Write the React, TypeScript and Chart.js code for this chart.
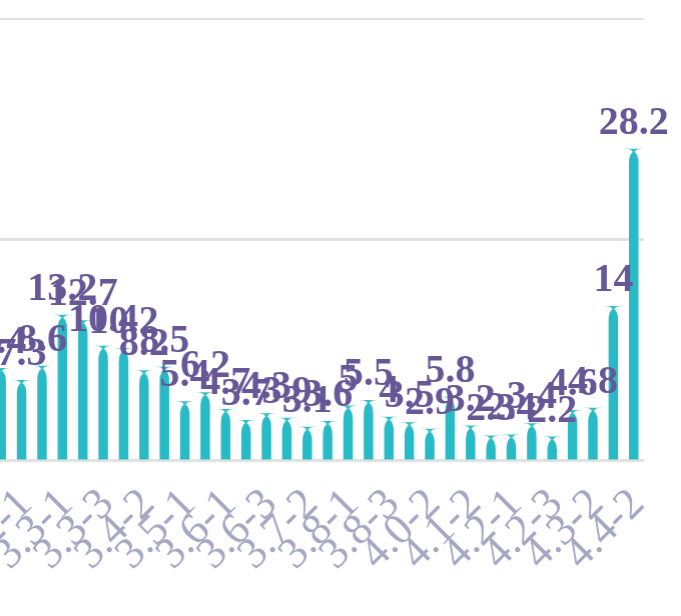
import React, { useEffect, useRef } from "react";
import { Chart, registerables } from "chart.js";

Chart.register(...registerables);

const categories = [
  "3.1-3", "3.2-1", "3.2-2", "3.3-1", "3.3-2", "3.3-3", "3.4-1", "3.4-2",
  "3.4-3", "3.5-1", "3.5-2", "3.6-1", "3.6-2", "3.6-3", "3.7-1", "3.7-2",
  "3.7-3", "3.8-1", "3.8-2", "3.8-3", "4.0-1", "4.0-2", "4.1-1", "4.1-2",
  "4.1-3", "4.2-1", "4.2-2", "4.2-3", "4.3-1", "4.3-2", "4.4-1", "4.4-2",
];

const values = [
  8.4, 7.3, 8.6, 13.2, 12.7, 10.4, 10.2, 8.2,
  8.5, 5.4, 6.2, 4.7, 3.7, 4.3, 3.9, 3.1,
  3.6, 5, 5.5, 4, 3.5, 2.9, 5.8, 3.2,
  2.3, 2.4, 3.4, 2.2, 4.6, 4.8, 14, 28.2,
];

const yTicks = [0, 20, 40];

const BAR_COLOR = "#29bbc5";
const CAP_COLOR = "#35c0c8";
const LABEL_COLOR = "#665897";
const TICK_COLOR = "#a4a8c2";
const GRID_COLOR = "#e2e2e2";

// desired chart-area placement on the page (layout only)
const AREA = { left: -8.6, right: 644.5, top: 18, bottom: 461 };

const shapePlugin = {
  id: "bulletBars",
  afterDatasetsDraw(chart: any) {
    const ctx = chart.ctx;
    const meta = chart.getDatasetMeta(0);
    const ds = chart.data.datasets[0];
    ctx.save();
    meta.data.forEach((el: any) => {
      const x = el.x;
      const top = el.y;
      const base = el.base;
      const w = el.width;
      ctx.beginPath();
      ctx.moveTo(x - w / 2, base);
      ctx.lineTo(x - w / 2, top + 14);
      ctx.quadraticCurveTo(x - w / 2, top + 5, x, top + 2.5);
      ctx.quadraticCurveTo(x + w / 2, top + 5, x + w / 2, top + 14);
      ctx.lineTo(x + w / 2, base);
      ctx.closePath();
      ctx.fillStyle = BAR_COLOR;
      ctx.fill();
      const cw = 19;
      const ch = 6;
      ctx.beginPath();
      ctx.moveTo(x - cw / 2, top);
      ctx.lineTo(x + cw / 2, top);
      ctx.bezierCurveTo(x + cw * 0.06, top, x + cw * 0.05, top + ch * 0.5, x, top + ch);
      ctx.bezierCurveTo(x - cw * 0.05, top + ch * 0.5, x - cw * 0.06, top, x - cw / 2, top);
      ctx.closePath();
      ctx.fillStyle = CAP_COLOR;
      ctx.fill();
    });
    ctx.font = 'bold 40px "Liberation Serif", "Times New Roman", serif';
    ctx.fillStyle = LABEL_COLOR;
    ctx.textAlign = "center";
    ctx.textBaseline = "alphabetic";
    meta.data.forEach((el: any, i: number) => {
      ctx.fillText(String(ds.data[i]), el.x, el.y - 15);
    });
    ctx.restore();
  },
};

export default function App() {
  const wrapRef = useRef<HTMLDivElement>(null);
  const canvasRef = useRef<HTMLCanvasElement>(null);

  useEffect(() => {
    document.documentElement.style.overflow = "hidden";
    document.body.style.overflow = "hidden";
    const wrap = wrapRef.current!;
    const startW = 760;
    const startH = 660;
    wrap.style.position = "absolute";
    wrap.style.left = "0px";
    wrap.style.top = "0px";
    wrap.style.width = startW + "px";
    wrap.style.height = startH + "px";

    const chart = new Chart(canvasRef.current!, {
      type: "bar",
      data: {
        labels: categories,
        datasets: [
          {
            data: values,
            backgroundColor: "rgba(0,0,0,0)",
            borderWidth: 0,
            barThickness: 9.5,
          },
        ],
      },
      options: {
        animation: false,
        responsive: true,
        maintainAspectRatio: false,
        layout: { padding: 0 },
        plugins: {
          legend: { display: false },
          tooltip: { enabled: false },
        },
        scales: {
          x: {
            grid: { display: false },
            border: { display: false },
            ticks: {
              autoSkip: false,
              maxRotation: 45,
              minRotation: 45,
              padding: 10,
              labelOffset: 4,
              color: TICK_COLOR,
              font: { family: '"Liberation Serif", "Times New Roman", serif', size: 44 },
              callback: (_v: any, i: number) => (i % 2 === 1 ? categories[i] : ""),
            },
          },
          y: {
            min: yTicks[0],
            max: yTicks[yTicks.length - 1],
            afterBuildTicks: (axis: any) => {
              axis.ticks = yTicks.map((v) => ({ value: v }));
            },
            ticks: { display: false },
            border: { display: false },
            grid: { color: GRID_COLOR, lineWidth: 3, drawTicks: false },
          },
        },
      },
      plugins: [shapePlugin],
    });

    const ca = chart.chartArea;
    const padL = ca.left;
    const padR = startW - ca.right;
    const padT = ca.top;
    const padB = startH - ca.bottom;
    const newW = AREA.right - AREA.left + padL + padR;
    const newH = AREA.bottom - AREA.top + padT + padB;
    wrap.style.left = AREA.left - padL + "px";
    wrap.style.top = AREA.top - padT + "px";
    wrap.style.width = newW + "px";
    wrap.style.height = newH + "px";
    chart.resize();

    return () => chart.destroy();
  }, []);

  return (
    <div ref={wrapRef}>
      <canvas ref={canvasRef} />
    </div>
  );
}
